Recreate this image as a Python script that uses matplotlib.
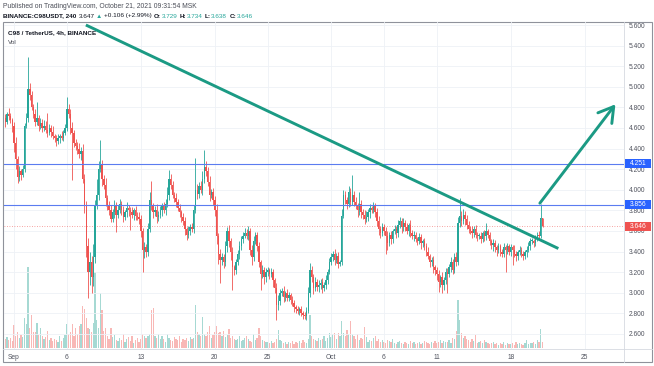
import numpy as np
import matplotlib.pyplot as plt
from matplotlib.patches import Rectangle
from matplotlib.transforms import blended_transform_factory

plt.rcParams['font.family'] = ['Liberation Sans', 'DejaVu Sans']

# C98/USDT 4h candles, one row per day, first row = Aug 31 (00:00 ... 20:00)
first_open = 4.66
closes = [
    4.70, 4.66, 4.74, 4.72, 4.68, 4.62,
    4.45, 4.30, 4.12, 4.18, 4.14, 4.20,
    4.62, 4.70, 4.98, 4.92, 4.80, 4.74,
    4.66, 4.70, 4.62, 4.65, 4.60, 4.62,
    4.58, 4.55, 4.60, 4.56, 4.52, 4.50,
    4.47, 4.50, 4.52, 4.50, 4.55, 4.60,
    4.78, 4.74, 4.60, 4.55, 4.45, 4.43,
    4.40, 4.35, 4.38, 4.10, 3.85, 3.45,
    3.20, 3.30, 3.15, 3.35, 3.85, 3.95,
    4.20, 4.24, 4.10, 4.05, 3.92, 3.85,
    3.80, 3.72, 3.78, 3.84, 3.76, 3.80,
    3.86, 3.80, 3.74, 3.78, 3.82, 3.80,
    3.78, 3.76, 3.80, 3.75, 3.74, 3.72,
    3.60, 3.42, 3.44, 3.40, 3.62, 3.90,
    3.84, 3.78, 3.80, 3.74, 3.76, 3.80,
    3.84, 3.80, 3.86, 3.95, 4.10, 4.05,
    3.95, 3.92, 3.88, 3.82, 3.78, 3.74,
    3.70, 3.62, 3.56, 3.60, 3.64, 3.62,
    3.80, 4.00, 3.96, 4.04, 4.00, 4.10,
    4.22, 4.18, 4.08, 3.95, 3.98, 3.90,
    3.80, 3.55, 3.38, 3.32, 3.35, 3.30,
    3.45, 3.60, 3.50, 3.40, 3.25, 3.22,
    3.30, 3.38, 3.45, 3.52, 3.55, 3.58,
    3.55, 3.60, 3.42, 3.35, 3.50, 3.56,
    3.45, 3.30, 3.18, 3.22, 3.15, 3.20,
    3.22, 3.18, 3.20, 3.12, 3.05, 2.88,
    2.92, 3.00, 3.02, 2.96, 3.00, 2.95,
    2.98, 2.93, 2.90, 2.86, 2.84, 2.82,
    2.84, 2.80, 2.78, 2.77, 2.82, 3.00,
    3.22, 3.15, 3.05, 3.10, 3.06, 3.08,
    3.10, 3.05, 3.08, 3.12, 3.20, 3.30,
    3.35, 3.38, 3.32, 3.36, 3.28, 3.30,
    3.75, 3.95, 3.90, 3.86, 3.98, 3.88,
    3.95, 3.88, 3.84, 3.80, 3.86, 3.78,
    3.76, 3.72, 3.74, 3.78, 3.82, 3.80,
    3.84, 3.78, 3.70, 3.62, 3.58, 3.64,
    3.60, 3.55, 3.48, 3.56, 3.52, 3.60,
    3.62, 3.58, 3.66, 3.70, 3.64, 3.68,
    3.64, 3.60, 3.66, 3.58, 3.55, 3.56,
    3.52, 3.50, 3.54, 3.48, 3.50, 3.45,
    3.40, 3.36, 3.30, 3.32, 3.25, 3.22,
    3.18, 3.10, 3.15, 3.08, 3.12, 3.20,
    3.18, 3.25, 3.30, 3.22, 3.35, 3.30,
    3.68, 3.75, 3.70, 3.76, 3.72, 3.66,
    3.62, 3.60, 3.58, 3.62, 3.56, 3.55,
    3.55, 3.52, 3.58, 3.55, 3.60, 3.56,
    3.50, 3.46, 3.48, 3.44, 3.42, 3.45,
    3.40, 3.38, 3.44, 3.42, 3.45, 3.40,
    3.44, 3.42, 3.38, 3.36, 3.40, 3.42,
    3.38, 3.36, 3.40, 3.42, 3.45, 3.50,
    3.50, 3.48, 3.52, 3.56, 3.55, 3.729,
    3.646,
]

# upper / lower wick length in cents
wick_up = [
    3, 4, 2, 5, 3, 2,   4, 6, 3, 5, 2, 4,   3, 5, 31, 6, 4, 3,
    4, 15, 3, 5, 4, 6,  5, 17, 4, 3, 6, 2,  3, 4, 2, 5, 3, 4,
    12, 5, 4, 6, 3, 4,  3, 5, 4, 6, 5, 4,   8, 10, 6, 12, 5, 15,
    8, 24, 5, 4, 6, 3,  4, 5, 3, 6, 4, 5,   5, 3, 4, 2, 6, 3,
    3, 5, 2, 4, 3, 4,   4, 3, 5, 3, 6, 8,   19, 3, 4, 6, 3, 4,
    3, 4, 5, 8, 9, 5,   4, 3, 5, 3, 4, 2,   3, 4, 2, 5, 3, 4,
    5, 31, 6, 4, 5, 8,  17, 6, 4, 5, 3, 4,  4, 6, 3, 5, 4, 3,
    5, 4, 6, 3, 4, 2,   3, 4, 5, 3, 4, 5,   4, 5, 3, 4, 5, 3,
    3, 4, 2, 5, 3, 4,   3, 2, 4, 3, 2, 5,   6, 4, 3, 5, 2, 4,
    3, 2, 4, 3, 2, 3,   2, 3, 2, 3, 4, 6,   7, 4, 3, 5, 3, 4,
    3, 4, 2, 5, 3, 4,   4, 3, 5, 3, 4, 2,   6, 5, 4, 3, 6, 4,
    19, 4, 5, 3, 12, 4, 3, 4, 5, 3, 4, 2,   4, 3, 4, 5, 3, 4,
    3, 4, 5, 3, 4, 2,   4, 3, 5, 4, 3, 5,   3, 4, 2, 5, 3, 4,
    3, 2, 4, 3, 2, 3,   3, 4, 2, 3, 4, 2,   3, 4, 2, 5, 3, 4,
    4, 3, 5, 3, 4, 5,   6, 17, 4, 5, 3, 4,  4, 3, 5, 3, 4, 3,
    3, 4, 2, 3, 8, 2,   3, 2, 4, 3, 2, 3,   2, 3, 4, 2, 3, 2,
    3, 2, 4, 3, 2, 3,   2, 3, 2, 3, 4, 3,   3, 2, 4, 3, 4, 13,
    0,
]
wick_dn = [
    3, 5, 2, 4, 3, 6,   8, 10, 5, 3, 4, 2,  3, 2, 4, 5, 3, 4,
    4, 3, 5, 3, 4, 3,   3, 4, 2, 5, 3, 4,   4, 3, 5, 2, 3, 2,
    3, 4, 6, 45, 3, 4,  5, 4, 6, 3, 8, 10,  25, 12, 15, 8, 6, 4,
    5, 3, 6, 4, 8, 5,   4, 3, 3, 5, 17, 3,  3, 4, 5, 3, 4, 5,
    17, 3, 5, 4, 3, 5,  6, 22, 8, 5, 4, 3,  4, 5, 3, 6, 4, 3,
    5, 3, 4, 3, 5, 4,   3, 4, 5, 3, 4, 5,   4, 6, 5, 3, 4, 3,
    4, 3, 5, 4, 3, 5,   3, 5, 4, 6, 3, 5,   5, 8, 10, 22, 5, 6,
    4, 5, 6, 8, 22, 5,  4, 3, 5, 3, 4, 2,   3, 4, 5, 8, 4, 3,
    4, 5, 15, 4, 6, 5,  4, 5, 3, 6, 5, 14,  5, 4, 3, 5, 4, 3,
    3, 4, 3, 5, 4, 3,   4, 3, 3, 2, 3, 2,   4, 5, 6, 3, 4, 5,
    4, 5, 3, 4, 3, 2,   3, 4, 5, 3, 4, 2,   3, 2, 4, 5, 3, 4,
    3, 4, 3, 6, 4, 5,   4, 5, 3, 4, 5, 3,   3, 4, 5, 6, 5, 3,
    4, 17, 6, 3, 5, 4,  3, 5, 4, 3, 6, 4,   4, 3, 5, 4, 3, 5,
    3, 4, 3, 5, 4, 3,   4, 3, 5, 4, 6, 5,   6, 9, 4, 8, 5, 3,
    18, 3, 5, 4, 3, 4,  3, 4, 5, 3, 6, 4,   4, 3, 5, 4, 3, 5,
    3, 4, 3, 5, 4, 3,   4, 3, 5, 4, 6, 3,   4, 3, 3, 22, 4, 3,
    4, 15, 3, 5, 4, 3,  3, 4, 3, 5, 2, 3,   3, 4, 3, 2, 3, 2,
    1,
]

# volume (arbitrary units)
volumes = [
    13, 9, 11, 8, 10, 7,   23, 12, 16, 10, 13, 11,  30, 24, 81, 20, 33, 16,
    16, 25, 13, 20, 12, 9, 11, 17, 8, 10, 7, 9,     8, 6, 12, 7, 10, 13,
    24, 14, 16, 24, 12, 20, 14, 22, 24, 42, 39, 30, 20, 19, 16, 25, 76, 28,
    20, 55, 38, 17, 20, 12, 9, 20, 11, 13, 8, 7,    10, 8, 14, 6, 9, 11,
    7, 12, 5, 8, 10, 6,    9, 14, 12, 10, 12, 14,   38, 40, 12, 10, 14, 9,
    12, 9, 6, 14, 10, 8,   7, 11, 9, 8, 12, 6,      9, 8, 10, 7, 11, 9,
    10, 43, 16, 14, 12, 31, 14, 12, 16, 22, 10, 13, 16, 22, 15, 16, 12, 17,
    11, 13, 19, 10, 12, 9, 8, 9, 12, 7, 8, 10,      12, 9, 7, 6, 14, 8,
    10, 20, 12, 8, 7, 6,   6, 5, 7, 5, 6, 9,        18, 8, 7, 5, 6, 4,
    6, 5, 7, 4, 6, 5,      7, 5, 8, 6, 5, 9,        33, 12, 9, 8, 7, 10,
    8, 9, 12, 7, 10, 15,   11, 14, 15, 9, 15, 12,   27, 15, 12, 18, 14, 27,
    14, 12, 9, 14, 8, 10,  9, 21, 11, 6, 8, 7,      10, 12, 7, 9, 6, 8,
    6, 5, 8, 7, 6, 9,      5, 4, 6, 7, 5, 4,        6, 5, 4, 7, 5, 6,
    4, 5, 6, 4, 5, 7,      6, 5, 4, 6, 5, 7,        5, 6, 8, 5, 7, 6,
    6, 8, 5, 10, 9, 17,    48, 28, 15, 10, 12, 9,   8, 6, 9, 7, 13, 5,
    6, 7, 5, 8, 6, 5,      4, 5, 6, 4, 5, 3,        5, 4, 6, 3, 5, 4,
    4, 5, 3, 6, 4, 5,      4, 3, 5, 8, 4, 5,        5, 6, 4, 8, 6, 19,
    6,
]

# days counted from Sep 1
date_ticks = [0, 5, 12, 19, 24, 30, 35, 40, 47, 54]
date_labels = ['Sep', '6', '13', '20', '25', 'Oct', '6', '11', '18', '25']
price_ticks = [2.6, 2.8, 3.0, 3.2, 3.4, 3.6, 3.8, 4.0, 4.2, 4.4, 4.6, 4.8, 5.0, 5.2, 5.4, 5.6]
levels = [4.251, 3.856]
last_price = 3.646

# drawn trend line and arrow (day, price)
trend_x = [6.8, 51.5]
trend_y = [5.60, 3.43]
arrow_from = (49.75, 3.87)
arrow_to = (56.9, 4.83)

UP, DOWN = '#26a69a', '#ef5350'
W, H = 654, 366

c = np.array(closes)
o = np.array([first_open] + closes[:-1])
hi = np.maximum(o, c) + np.array(wick_up) / 100
lo = np.minimum(o, c) - np.array(wick_dn) / 100
x = -1 + np.arange(len(c)) / 6
up = c >= o
cols = np.where(up, UP, DOWN)
vcols = np.where(up, '#a6d9d3', '#f8b8b6')

fig = plt.figure(figsize=(W / 100, H / 100), dpi=100)
fig.patch.set_facecolor('white')

def box(l, t, r, b):
    return [l / W, 1 - b / H, (r - l) / W, (b - t) / H]

ax = fig.add_axes(box(4, 22, 624, 349))
ax2 = ax.twinx()
ax.set_zorder(ax2.get_zorder() + 1)
ax.patch.set_visible(False)

# volume
ax2.bar(x, volumes, width=0.12, color=vcols, linewidth=0)
ax2.set_ylim(-1, 326)
ax2.set_yticks([])
for s in ax2.spines.values():
    s.set_visible(False)

# grid
for p in price_ticks:
    ax.axhline(p, color='#eef1f6', lw=0.6, zorder=0)
for d in date_ticks:
    ax.axvline(d, color='#eef1f6', lw=0.6, zorder=0)

# candles
ax.vlines(x, lo, hi, colors=cols, lw=0.6, zorder=2)
body = np.maximum(np.abs(c - o), 0.008)
ax.bar(x, body, bottom=np.minimum(o, c), width=0.13, color=cols, linewidth=0, zorder=3)

# levels
for lv in levels:
    ax.axhline(lv, color='#5b7cf0', lw=0.8, zorder=4)
ax.axhline(last_price, color=DOWN, lw=0.6, ls=(0, (1, 2)), alpha=0.7, zorder=1)

# trend line + arrow
ax.plot(trend_x, trend_y, color='#1b9a84', lw=2.1, solid_capstyle='butt', zorder=5)
ax.annotate('', xy=arrow_to, xytext=arrow_from,
            arrowprops=dict(arrowstyle='->,head_length=0.75,head_width=0.45',
                            color='#1b9a84', lw=2.1, mutation_scale=14,
                            shrinkA=0, shrinkB=0), zorder=5)

ax.set_xlim(-10 / 10.57, 610 / 10.57)
ax.set_ylim(5.6 - 324 / 103, 5.6 + 3 / 103)
for s in ax.spines.values():
    s.set_visible(False)

ax.set_xticks(date_ticks)
ax.set_xticklabels(date_labels)
ax.yaxis.tick_right()
ax.set_yticks(price_ticks)
ax.set_yticklabels([f'{p:.3f}' for p in price_ticks])
ax.tick_params(axis='y', length=0, pad=3.6, labelsize=4.8, labelcolor='#50535e')
ax.tick_params(axis='x', length=0, pad=3.6, labelsize=4.8, labelcolor='#50535e')

# price labels on axis
tr = blended_transform_factory(ax.transAxes, ax.transData)
for lv, fc in [(levels[0], '#2962ff'), (levels[1], '#2962ff'), (last_price, DOWN)]:
    ax.add_patch(Rectangle((1 + 1 / 620, lv - 0.044), 26 / 620, 0.088, transform=tr,
                           facecolor=fc, edgecolor='none', clip_on=False, zorder=6))
    ax.text(1 + 14 / 620, lv, f'{lv:.3f}', transform=tr, ha='center', va='center',
            color='white', fontsize=4.8, zorder=7, clip_on=False)

# frame
fig.add_artist(Rectangle((3 / W, 1 - 362 / H), 649 / W, 340 / H, transform=fig.transFigure,
                         fill=False, ec='#8f929b', lw=0.8))
fig.add_artist(plt.Line2D([624 / W, 624 / W], [1 - 362 / H, 1 - 22 / H],
                          transform=fig.transFigure, color='#d6d9e0', lw=0.6))
fig.add_artist(plt.Line2D([3 / W, 652 / W], [1 - 349 / H, 1 - 349 / H],
                          transform=fig.transFigure, color='#d6d9e0', lw=0.6))

# header texts
fig.canvas.draw()
r = fig.canvas.get_renderer()

def seq_text(px, py, parts, size):
    for s, color, weight, gap in parts:
        t = fig.text(px / W, 1 - py / H, s, color=color, fontsize=size,
                     fontweight=weight, va='center', ha='left')
        px += t.get_window_extent(renderer=r).width + gap

fig.text(3 / W, 1 - 6 / H, 'Published on TradingView.com, October 21, 2021 09:31:54 MSK',
         fontsize=4.9, color='#4a4d57', va='center')
dark = '#131722'
seq_text(3, 16, [('BINANCE:C98USDT, 240', dark, 'bold', 2.2), ('3.647', dark, 'normal', 1.6),
                 ('\u25b2', UP, 'normal', 1.6), ('+0.106 (+2.99%)', dark, 'normal', 2.4),
                 ('O:', dark, 'bold', 0.5), ('3.729', UP, 'normal', 2.2),
                 ('H:', dark, 'bold', 0.5), ('3.734', UP, 'normal', 2.2),
                 ('L:', dark, 'bold', 0.5), ('3.638', UP, 'normal', 2.2),
                 ('C:', dark, 'bold', 0.5), ('3.646', UP, 'normal', 0)], 4.6)
fig.text(8 / W, 1 - 33 / H, 'C98 / TetherUS, 4h, BINANCE', fontsize=4.6,
         fontweight='bold', color=dark, va='center')
fig.text(8 / W, 1 - 43 / H, 'Vol', fontsize=4.6, color='#4a4d57', va='center')

fig.savefig('out.png', dpi=100)
